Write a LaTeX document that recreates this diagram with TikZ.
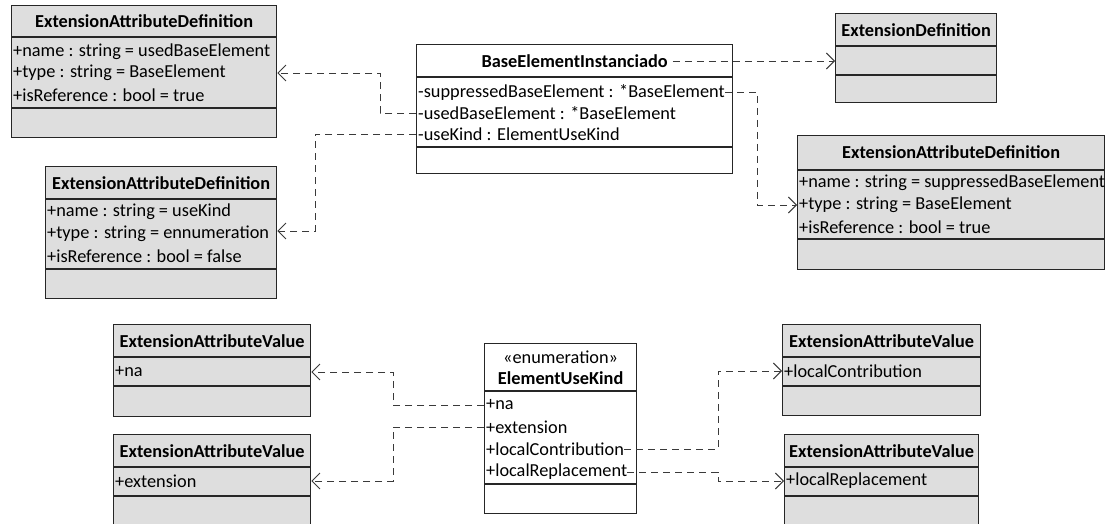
\documentclass[tikz,border=0pt]{standalone}
\usepackage{fontspec}
\setmainfont{Carlito}
\usetikzlibrary{arrows.meta}
\definecolor{boxfill}{HTML}{DEDEDE}
\definecolor{conn}{HTML}{3A3A3A}
\tikzset{
 box/.style={draw=black!85, line width=1.3pt, fill=#1, inner sep=0pt, anchor=north west},
 attr/.style={inner sep=0pt, anchor=west, font=\fontsize{18.3}{21}\selectfont},
 ttl/.style={inner sep=0pt, font=\fontsize{18.3}{21}\selectfont\bfseries},
 stereo/.style={inner sep=0pt, font=\fontsize{18.3}{21}\selectfont},
 sep/.style={draw=black!85, line width=1.3pt},
 dep/.style={draw=conn, line width=0.9pt, dash pattern=on 7pt off 5pt, -{Straight Barb[length=8pt,width=16pt]}},
}
\newcommand\umlbox[6]{\node[box=#6, minimum width=#4pt, minimum height=#5pt] (#1) at (#2,#3) {};}
\newcommand\umlsep[2]{\draw[sep] (#1.west |- 0,#2) -- (#1.east |- 0,#2);}
\begin{document}
\begin{tikzpicture}[x=1pt,y=-1pt]
\useasboundingbox (0,0) rectangle (1105,523);
\clip (0,0) rectangle (1105,523);
\fill[white] (0,0) rectangle (1105,523);
% ExtensionAttributeDefinition (usedBaseElement)
\umlbox{ead1}{11}{5}{265}{132}{boxfill}
\umlsep{ead1}{37}\umlsep{ead1}{108}
\node[ttl] (ead1-t) at (ead1.north |- 0,21) {ExtensionAttributeDefinition};
\node[attr] (ead1-name) at (13,52) {+name : string = usedBaseElement};
\node[attr] (ead1-type) at (13,73) {+type : string = BaseElement};
\node[attr] (ead1-ref) at (13,95) {+isReference : bool = true};
% ExtensionAttributeDefinition (useKind)
\umlbox{ead2}{45}{166}{231}{132}{boxfill}
\umlsep{ead2}{199}\umlsep{ead2}{269}
\node[ttl] (ead2-t) at (ead2.north |- 0,183) {ExtensionAttributeDefinition};
\node[attr] (ead2-name) at (47,212) {+name : string = useKind};
\node[attr] (ead2-type) at (47,234) {+type : string = ennumeration};
\node[attr] (ead2-ref) at (47,256) {+isReference : bool = false};
% BaseElementInstanciado
\umlbox{bei}{416}{44}{316}{129}{white}
\umlsep{bei}{77}\umlsep{bei}{147}
\node[ttl] (bei-t) at (bei.north |- 0,61) {BaseElementInstanciado};
\node[attr] (bei-supp) at (418,92) {-suppressedBaseElement : *BaseElement};
\node[attr] (bei-used) at (418,113) {-usedBaseElement : *BaseElement};
\node[attr] (bei-kind) at (418,134) {-useKind : ElementUseKind};
% ExtensionDefinition
\umlbox{ed}{835}{13}{161}{89}{boxfill}
\umlsep{ed}{46}\umlsep{ed}{75}
\node[ttl] (ed-t) at (ed.north |- 0,30) {ExtensionDefinition};
% ExtensionAttributeDefinition (suppressedBaseElement)
\umlbox{ead3}{797}{135}{307}{134}{boxfill}
\umlsep{ead3}{170}\umlsep{ead3}{239}
\node[ttl] (ead3-t) at (ead3.north |- 0,152) {ExtensionAttributeDefinition};
\node[attr] (ead3-name) at (799,183) {+name : string = suppressedBaseElement};
\node[attr] (ead3-type) at (799,205) {+type : string = BaseElement};
\node[attr] (ead3-ref) at (799,227) {+isReference : bool = true};
% ExtensionAttributeValue boxes
\umlbox{eav1}{113}{324}{197}{92}{boxfill}
\umlsep{eav1}{357}\umlsep{eav1}{386}
\node[ttl] (eav1-t) at (eav1.north |- 0,341) {ExtensionAttributeValue};
\node[attr] (eav1-na) at (115,372) {+na};
\umlbox{eav2}{113}{434}{197}{100}{boxfill}
\umlsep{eav2}{467}\umlsep{eav2}{496}
\node[ttl] (eav2-t) at (eav2.north |- 0,451) {ExtensionAttributeValue};
\node[attr] (eav2-ext) at (115,481) {+extension};
\umlbox{eav3}{782}{324}{198}{91}{boxfill}
\umlsep{eav3}{357}\umlsep{eav3}{386}
\node[ttl] (eav3-t) at (eav3.north |- 0,341) {ExtensionAttributeValue};
\node[attr] (eav3-lc) at (784,371) {+localContribution};
\umlbox{eav4}{784}{434}{194}{100}{boxfill}
\umlsep{eav4}{467}\umlsep{eav4}{496}
\node[ttl] (eav4-t) at (eav4.north |- 0,451) {ExtensionAttributeValue};
\node[attr] (eav4-lr) at (786,481) {+localReplacement};
% ElementUseKind
\umlbox{euk}{484}{343}{152}{170}{white}
\umlsep{euk}{391}\umlsep{euk}{484}
\node[stereo] (euk-s) at (euk.north |- 0,357) {«enumeration»};
\node[ttl] (euk-t) at (euk.north |- 0,378) {ElementUseKind};
\node[attr] (euk-na) at (486,405) {+na};
\node[attr] (euk-ext) at (486,427) {+extension};
\node[attr] (euk-lc) at (486,449) {+localContribution};
\node[attr] (euk-lr) at (486,472) {+localReplacement};
% helper coordinates
\coordinate (c1) at (380,0);
\coordinate (c2) at (315,0);
\coordinate (c3) at (757,0);
\coordinate (c4) at (393,0);
\coordinate (c5) at (718,0);
% connectors
\draw[dep] (bei.west |- bei-used) -| (c1 |- bei-used) |- (ead1.east |- ead1-type);
\draw[dep] (bei.west |- bei-kind) -- (c2 |- bei-kind) |- (ead2.east |- 0,231);
\draw[dep] ([xshift=5pt]bei-t.east) -- (ed.west |- bei-t);
\draw[dep] (bei-supp.east) -- (c3 |- bei-supp) |- (ead3.west |- ead3-type);
\draw[dep] (euk.west |- euk-na) -- (c4 |- euk-na) |- (eav1.east |- eav1-na);
\draw[dep] (euk.west |- euk-ext) -- (c4 |- euk-ext) |- (eav2.east |- eav2-ext);
\draw[dep] (euk-lc.east) -- (c5 |- euk-lc) |- (eav3.west |- eav3-lc);
\draw[dep] (euk-lr.east) -- (c5 |- euk-lr) |- (eav4.west |- eav4-lr);
\end{tikzpicture}
\end{document}
